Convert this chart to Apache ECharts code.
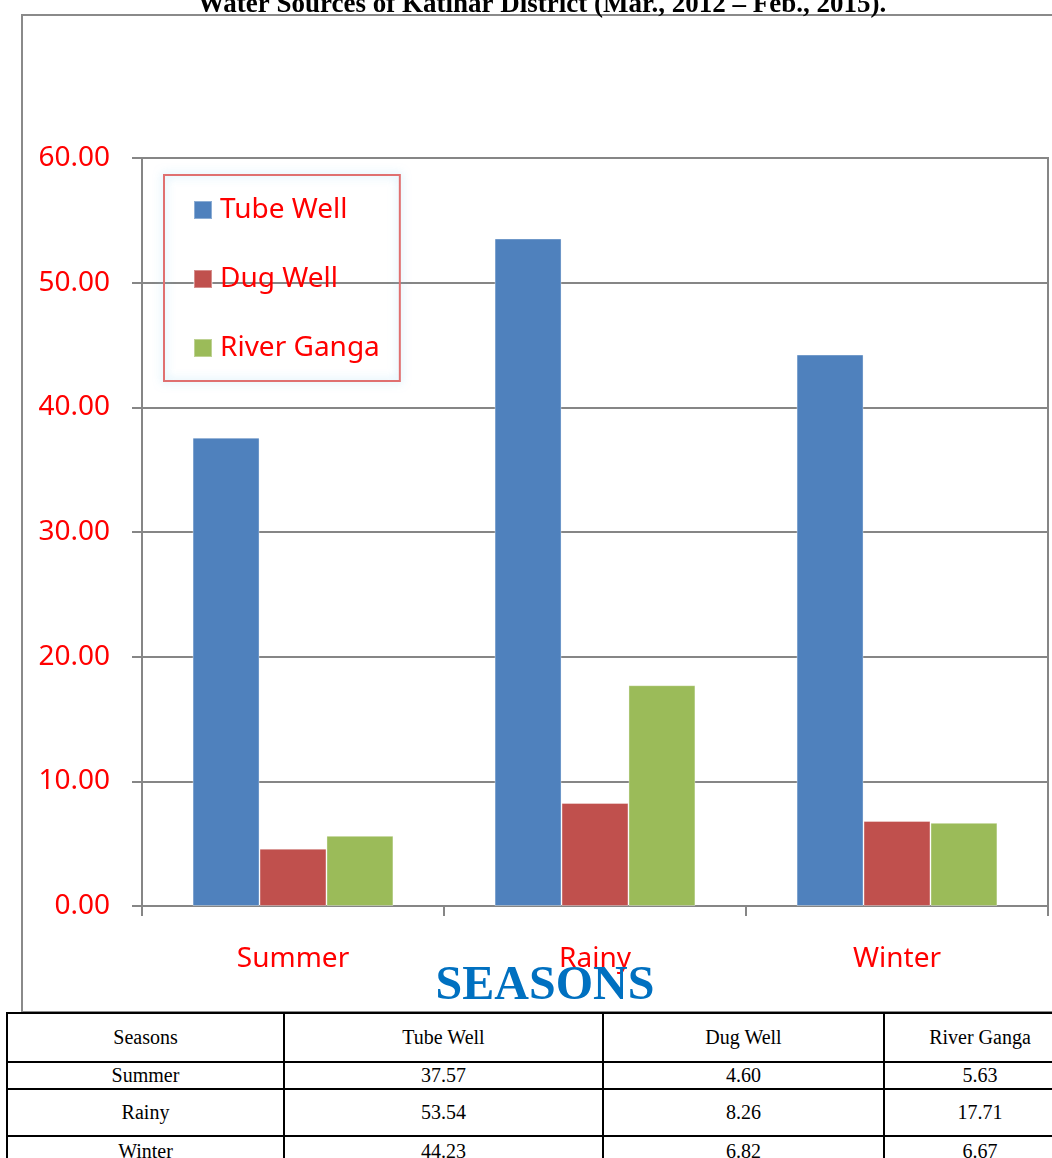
<!DOCTYPE html>
<html>
<head>
<meta charset="utf-8">
<script src="https://cdn.jsdelivr.net/npm/echarts@6/dist/echarts.min.js"></script>
<style>
html, body { margin: 0; padding: 0; width: 1052px; height: 1158px; overflow: hidden; background: #fff; }
#chart { position: absolute; left: 0; top: 0; width: 1052px; height: 1158px; }
#tbl { position: absolute; left: 6px; top: 1012px; border-collapse: collapse; table-layout: fixed; width: 1069px; font-family: "Liberation Serif", "Times New Roman", serif; font-size: 20px; color: #000; z-index: 2; background: #fff; }
#tbl td { border: 2px solid #000; text-align: center; padding: 0; overflow: hidden; white-space: nowrap; }
</style>
</head>
<body>
<div id="chart"></div>
<table id="tbl"></table>
<script>
const titleText = 'Water Sources of Katihar District (Mar., 2012 \u2013 Feb., 2015).';
const axisName = 'SEASONS';
const categories = ['Summer', 'Rainy', 'Winter'];
const seriesNames = ['Tube Well', 'Dug Well', 'River Ganga'];
const tubeWell = [37.57, 53.54, 44.23];
const dugWell = [4.60, 8.26, 6.82];
const riverGanga = [5.63, 17.71, 6.67];
const tableHeader = ['Seasons', 'Tube Well', 'Dug Well', 'River Ganga'];
const yTicks = [0, 10, 20, 30, 40, 50, 60];

const colors = ['#4F81BD', '#C0504D', '#9BBB59'];
const values = [tubeWell, dugWell, riverGanga];
const grey = '#868686';
const labelFont = '"Noto Sans", sans-serif';

const chart = echarts.init(document.getElementById('chart'), null, { renderer: 'canvas' });
chart.setOption({
  animation: false,
  backgroundColor: '#fff',
  grid: { left: 142, right: 4, top: 158, bottom: 252, show: true, borderColor: grey, borderWidth: 2, containLabel: false },
  legend: {
    orient: 'vertical',
    left: 164, top: 175,
    padding: [21, 20, 19, 29],
    itemGap: 41,
    itemWidth: 18, itemHeight: 18,
    icon: 'rect',
    borderColor: '#E07070', borderWidth: 2,
    shadowColor: 'rgba(120,200,240,0.6)', shadowBlur: 10,
    backgroundColor: 'rgba(255,255,255,0)',
    textStyle: { color: '#FF0000', fontSize: 28, fontFamily: labelFont, lineHeight: 28, padding: [0, 0, 0, 3] },
    data: seriesNames
  },
  xAxis: {
    type: 'category',
    data: categories,
    axisLine: { lineStyle: { color: grey, width: 2 } },
    axisTick: { show: true, length: 10, lineStyle: { color: grey, width: 2 } },
    axisLabel: { color: '#FF0000', fontSize: 28, fontFamily: labelFont, margin: 39 },
    splitLine: { show: false }
  },
  yAxis: {
    type: 'value',
    min: yTicks[0], max: yTicks[yTicks.length - 1], interval: 10,
    axisLine: { show: true, lineStyle: { color: grey, width: 2 } },
    axisTick: { show: true, length: 10, lineStyle: { color: grey, width: 2 } },
    axisLabel: { color: '#FF0000', fontSize: 28, fontFamily: labelFont, margin: 32, padding: [3, 0, 0, 0], formatter: v => v.toFixed(2) },
    splitLine: { show: true, lineStyle: { color: grey, width: 2 } }
  },
  series: seriesNames.map((n, i) => ({
    name: n,
    type: 'bar',
    data: values[i],
    barGap: '0%',
    barCategoryGap: '33.5%',
    itemStyle: { color: colors[i], borderColor: 'rgba(255,255,255,0.35)', borderWidth: 1 }
  })),
  graphic: [
    { type: 'rect', shape: { x: 22, y: 15, width: 1050, height: 997 }, style: { fill: 'none', stroke: '#8a8a8a', lineWidth: 2 }, silent: true, z: 100 },
    { type: 'text', x: 542, y: 5, style: { text: titleText, font: 'bold 27px "Liberation Serif", serif', fill: '#000', align: 'center', verticalAlign: 'middle' }, z: 100 },
    { type: 'text', x: 545, y: 987, style: { text: axisName, font: 'bold 48px "Liberation Serif", serif', fill: '#0070C0', align: 'center', verticalAlign: 'middle' }, z: 100 }
  ]
});

// data table built from the same arrays
const tbl = document.getElementById('tbl');
const widths = [277, 319, 281, 192];
const heights = [49, 27, 47, 30];
const colgroup = document.createElement('colgroup');
widths.forEach(w => { const col = document.createElement('col'); col.style.width = w + 'px'; colgroup.appendChild(col); });
tbl.appendChild(colgroup);
function addRow(cells, h) {
  const tr = document.createElement('tr');
  tr.style.height = h + 'px';
  cells.forEach(c => {
    const td = document.createElement('td');
    td.textContent = c;
    tr.appendChild(td);
  });
  tbl.appendChild(tr);
}
addRow(tableHeader, heights[0]);
categories.forEach((c, i) => addRow([c, tubeWell[i].toFixed(2), dugWell[i].toFixed(2), riverGanga[i].toFixed(2)], heights[i + 1]));
</script>
</body>
</html>
